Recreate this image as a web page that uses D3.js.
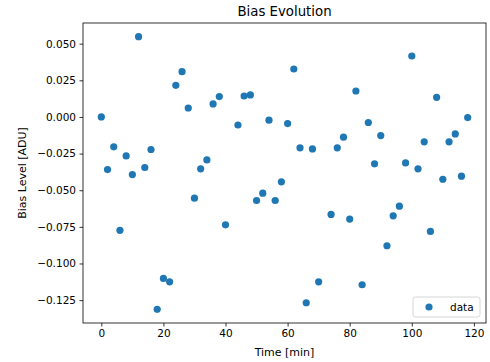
<!DOCTYPE html>
<html>
<head>
<meta charset="utf-8">
<script src="https://cdn.jsdelivr.net/npm/d3@7"></script>
<style>
  body { margin: 0; background: #fff; }
  text { font-family: "DejaVu Sans", sans-serif; fill: #000; }
</style>
</head>
<body>
<svg id="chart" width="490" height="362"></svg>
<script>
// time of each bias frame (min); 42 and 72 are missing in the source
const times = [0, 2, 4, 6, 8, 10, 12, 14, 16, 18, 20, 22, 24, 26, 28, 30, 32, 34, 36, 38, 40,
  44, 46, 48, 50, 52, 54, 56, 58, 60, 62, 64, 66, 68, 70,
  74, 76, 78, 80, 82, 84, 86, 88, 90, 92, 94, 96, 98, 100, 102, 104, 106, 108, 110, 112, 114, 116, 118]

// bias level [ADU]
const bias = [0.000, -0.0359, -0.0204, -0.0774, -0.0266, -0.0393, 0.0548, -0.0345, -0.0222, -0.1313,
  -0.1102, -0.1125, 0.0216, 0.0309, 0.0061, -0.0554, -0.0354, -0.0293, 0.0089, 0.0139, -0.0736,
  -0.0055, 0.0143, 0.0150, -0.0570, -0.0520, -0.0022, -0.0570, -0.0443, -0.0045, 0.0327, -0.0211,
  -0.1268, -0.0218, -0.1125,
  -0.0665, -0.0211, -0.0138, -0.0697, 0.0177, -0.1145, -0.0038, -0.0320, -0.0127, -0.0879, -0.0675,
  -0.0609, -0.0314, 0.0416, -0.0354, -0.0170, -0.0781, 0.0134, -0.0425, -0.0170, -0.0116, -0.0404, -0.0004]

const xTicks = [0, 20, 40, 60, 80, 100, 120]
const yTicks = [-0.125, -0.100, -0.075, -0.050, -0.025, 0.000, 0.025, 0.050]

const data = times.map((t, i) => ({ t: t, v: bias[i] }))

const svg = d3.select("#chart")
const margin = { top: 23, right: 4, bottom: 39, left: 83 }
const width = +svg.attr("width") - margin.left - margin.right
const height = +svg.attr("height") - margin.top - margin.bottom
const g = svg.append("g")
  .attr("transform", "translate(" + margin.left + "," + margin.top + ")")

// matplotlib style 5% padding around the data
function padded(ext) {
  const p = (ext[1] - ext[0]) * 0.05
  return [ext[0] - p, ext[1] + p]
}

const x = d3.scaleLinear().domain(padded(d3.extent(times))).range([0, width])
const y = d3.scaleLinear().domain(padded(d3.extent(bias))).range([height, 0])

const minus = (s) => s.replace("-", "\u2212")

const xAxis = g.append("g")
  .attr("transform", "translate(0," + height + ")")
  .call(d3.axisBottom(x).tickValues(xTicks).tickSize(3.5).tickPadding(3.5).tickFormat(d3.format("d")))
const yAxis = g.append("g")
  .call(d3.axisLeft(y).tickValues(yTicks).tickSize(3.5).tickPadding(3.5).tickFormat((d) => minus(d3.format(".3f")(d))))

for (const ax of [xAxis, yAxis]) {
  ax.select(".domain").remove()
  ax.selectAll(".tick line").attr("stroke", "#000").attr("stroke-width", 0.8)
  ax.selectAll(".tick text").attr("font-size", 10.5).attr("font-family", "DejaVu Sans").attr("fill", "#000")
}

// frame
g.append("rect")
  .attr("width", width)
  .attr("height", height)
  .attr("fill", "none")
  .attr("stroke", "#000")
  .attr("stroke-width", 0.8)

g.selectAll(".dot")
  .data(data)
  .enter()
  .append("circle")
  .attr("class", "dot")
  .attr("cx", (d) => x(d.t))
  .attr("cy", (d) => y(d.v))
  .attr("r", 3.6)
  .attr("fill", "#1f77b4")

// legend
const leg = g.append("g").attr("transform", "translate(" + (width - 73) + "," + (height - 26) + ")")
leg.append("rect")
  .attr("width", 67)
  .attr("height", 20)
  .attr("rx", 2.5)
  .attr("fill", "#fff")
  .attr("fill-opacity", 0.8)
  .attr("stroke", "#ccc")
  .attr("stroke-width", 0.8)
leg.append("circle").attr("cx", 16).attr("cy", 10).attr("r", 3.6).attr("fill", "#1f77b4")
leg.append("text").attr("x", 37).attr("y", 14).attr("font-size", 10.5).text("data")

// labels
svg.append("text")
  .attr("x", margin.left + width / 2)
  .attr("y", 16)
  .attr("text-anchor", "middle")
  .attr("font-size", 13.3)
  .text("Bias Evolution")

svg.append("text")
  .attr("x", margin.left + width / 2)
  .attr("y", 356)
  .attr("text-anchor", "middle")
  .attr("font-size", 11)
  .text("Time [min]")

svg.append("text")
  .attr("transform", "translate(26," + (margin.top + height / 2) + ") rotate(-90)")
  .attr("text-anchor", "middle")
  .attr("font-size", 11)
  .text("Bias Level [ADU]")
</script>
</body>
</html>
